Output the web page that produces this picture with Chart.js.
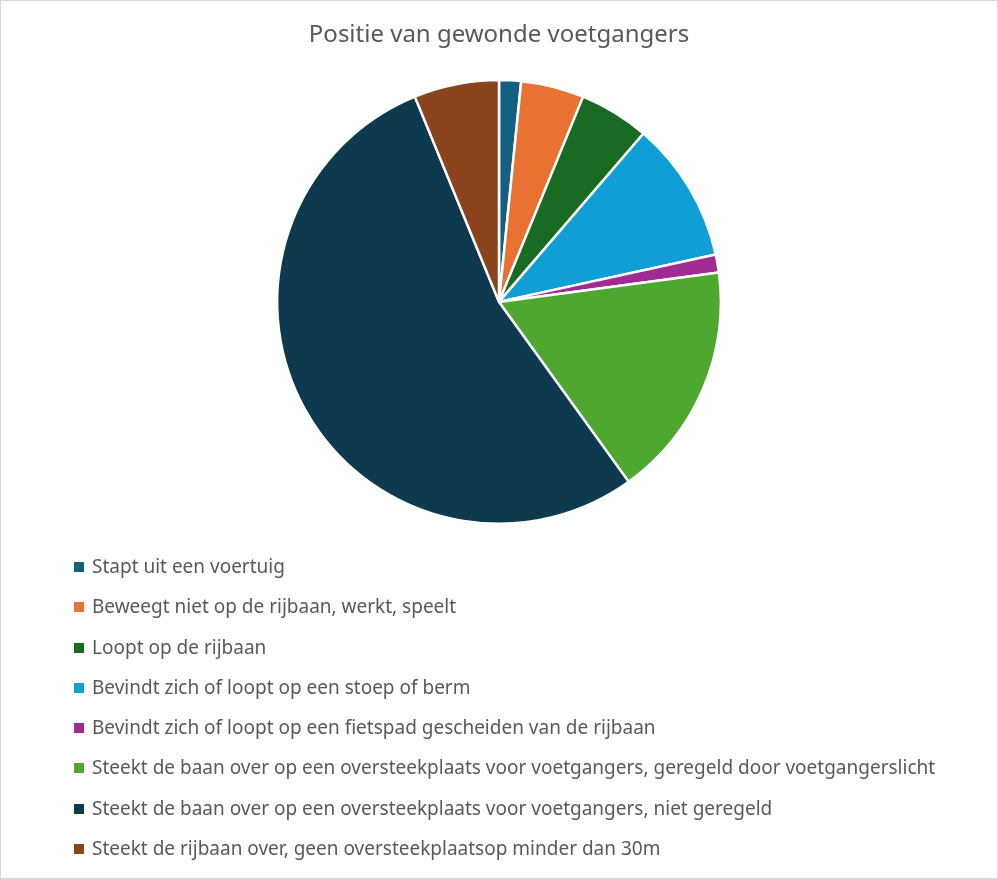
<!DOCTYPE html>
<html>
<head>
<meta charset="utf-8">
<script src="https://cdn.jsdelivr.net/npm/chart.js@4/dist/chart.umd.min.js"></script>
<style>
    html, body { margin: 0; padding: 0; background: #ffffff; }
    #frame {
        position: relative;
        width: 996px;
        height: 877px;
        border: 1px solid #d9d9d9;
        overflow: hidden;
    }
    #pie { position: absolute; left: 0; top: 0; }
    #legend {
        position: absolute;
        left: 73px;
        top: 554px;
        margin: 0;
        padding: 0;
        list-style: none;
        font-family: "Noto Sans", sans-serif;
        font-size: 19px;
        color: #595959;
    }
    #legend li {
        height: 40.3px;
        line-height: 23px;
        white-space: nowrap;
    }
    #legend .box {
        display: inline-block;
        width: 10px;
        height: 10px;
        margin-right: 8px;
        vertical-align: 1px;
    }
</style>
</head>
<body>
<div id="frame">
    <canvas id="pie" width="996" height="877"></canvas>
    <ul id="legend"></ul>
</div>
<script>
// Data
const categories = [
    'Stapt uit een voertuig',
    'Beweegt niet op de rijbaan, werkt, speelt',
    'Loopt op de rijbaan',
    'Bevindt zich of loopt op een stoep of berm',
    'Bevindt zich of loopt op een fietspad gescheiden van de rijbaan',
    'Steekt de baan over op een oversteekplaats voor voetgangers, geregeld door voetgangerslicht',
    'Steekt de baan over op een oversteekplaats voor voetgangers, niet geregeld',
    'Steekt de rijbaan over, geen oversteekplaatsop minder dan 30m'
];
const shares = [1.6, 4.6, 5.1, 10.3, 1.3, 17.2, 53.8, 6.2];

const sliceColors = [
    '#156082', // accent 1
    '#E97132', // accent 2
    '#196B24', // accent 3
    '#0F9ED5', // accent 4
    '#A02B93', // accent 5
    '#4EA72E', // accent 6
    '#0D3A4E', // accent 1 donkerder
    '#8C441E'  // accent 2 donkerder
];

const textColor = '#595959';

const chart = new Chart(document.getElementById('pie'), {
    type: 'pie',
    data: {
        labels: categories,
        datasets: [
            {
                label: 'Positie',
                data: shares,
                backgroundColor: sliceColors,
                borderColor: '#ffffff',
                borderWidth: 2.5
            }
        ]
    },
    options: {
        responsive: false,
        animation: false,
        layout: {
            padding: { top: 0, bottom: 353, left: 0, right: 0 }
        },
        plugins: {
            legend: { display: false },
            tooltip: { enabled: false },
            title: {
                display: true,
                text: 'Positie van gewonde voetgangers',
                color: textColor,
                padding: { top: 20, bottom: 29 },
                font: {
                    family: '"Noto Sans", sans-serif',
                    size: 24,
                    weight: 'normal',
                    lineHeight: 1.2
                }
            }
        }
    }
});

// Legend, one item per line (like the Excel original)
const legendEl = document.getElementById('legend');
chart.data.labels.forEach((label, i) => {
    const li = document.createElement('li');
    const box = document.createElement('span');
    box.className = 'box';
    box.style.background = sliceColors[i];
    li.appendChild(box);
    li.appendChild(document.createTextNode(label));
    legendEl.appendChild(li);
});
</script>
</body>
</html>
